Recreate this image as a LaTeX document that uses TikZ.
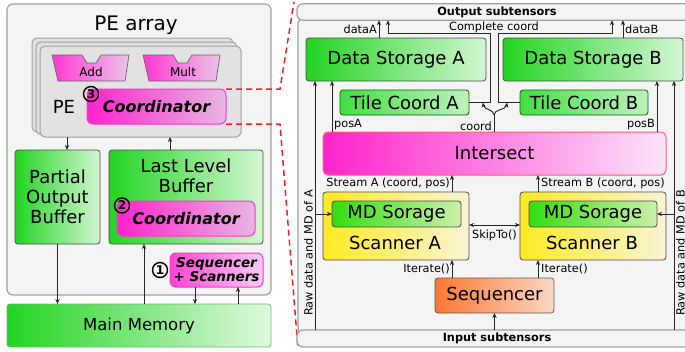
\documentclass[tikz,border=0pt]{standalone}
\usepackage{fontspec}
\setmainfont{DejaVu Sans}[BoldFont={DejaVu Sans Bold}, ItalicFont={DejaVu Sans Oblique}, BoldItalicFont={DejaVu Sans Bold Oblique}]
\usetikzlibrary{arrows.meta}

\definecolor{panelfill}{HTML}{F4F4F4}
\definecolor{panelline}{HTML}{A0A0A0}
\definecolor{pefill}{HTML}{E2E2E2}
\definecolor{gL}{HTML}{22D422}
\definecolor{gR}{HTML}{D4F6D4}
\definecolor{tcL}{HTML}{44DD44}
\definecolor{tcR}{HTML}{BEF2BE}
\definecolor{mgL}{HTML}{FF22CC}
\definecolor{mgR}{HTML}{E6B6E2}
\definecolor{mgLine}{HTML}{FF33CC}
\definecolor{ssR}{HTML}{F8CCF4}
\definecolor{isR}{HTML}{FCE4F8}
\definecolor{isLine}{HTML}{FF5A78}
\definecolor{yL}{HTML}{FFEA22}
\definecolor{yR}{HTML}{F8F4D6}
\definecolor{mdL}{HTML}{33DD11}
\definecolor{mdR}{HTML}{CCF0AA}
\definecolor{oL}{HTML}{FF7733}
\definecolor{oR}{HTML}{F8D8C4}
\definecolor{redline}{HTML}{EE2222}

\newcommand\fsTitle{\fontsize{20}{22}\selectfont}
\newcommand\fsBig{\fontsize{18}{20}\selectfont}
\newcommand\fsMM{\fontsize{16.5}{19}\selectfont}
\newcommand\fsCoord{\fontsize{16}{18}\selectfont\bfseries\itshape}
\newcommand\fsSeq{\fontsize{13.5}{14}\selectfont\bfseries\itshape}
\newcommand\fsLbl{\fontsize{11.3}{13}\selectfont}
\newcommand\fsSmall{\fontsize{12}{14}\selectfont}

\tikzset{
  base/.style={inner sep=0pt, outer sep=0pt, rounded corners=3pt, line width=0.8pt},
  panel/.style={base, draw=panelline, fill=panelfill, line width=1.2pt, rounded corners=6pt},
  bar/.style={base, draw=panelline, fill=panelfill, line width=1.2pt, rounded corners=6pt, font=\fsLbl\bfseries},
  pecard/.style={base, draw=panelline, fill=pefill, line width=1pt, rounded corners=5pt},
  gbox/.style={base, draw=black!70, left color=gL, right color=gR, font=\fsBig, align=center},
  mmbox/.style={base, draw=green!55!black!60, left color=gL, right color=gR!70!white, font=\fsMM},
  tcbox/.style={base, draw=green!40!black, left color=tcL, right color=tcR, font=\fsBig},
  coordbox/.style={base, draw=mgLine, line width=1pt, left color=mgL, right color=mgR, rounded corners=6pt, font=\fsCoord},
  ssbox/.style={base, draw=mgLine, line width=1pt, left color=mgL!85!white, right color=ssR, rounded corners=6pt, font=\fsSeq, align=center},
  isbox/.style={base, draw=isLine, line width=1pt, left color=mgL, right color=isR, rounded corners=5pt, font=\fsBig},
  scanbox/.style={base, draw=black!70, left color=yL, right color=yR},
  mdbox/.style={base, draw=black!70, left color=mdL, right color=mdR, font=\fsBig},
  seqbox/.style={base, draw=black!65, left color=oL, right color=oR, font=\fsBig},
  alu/.style={draw=black!60, line width=0.7pt, left color=mgL!90!white, right color=mgR!80!white},
  num/.style={circle, draw=black, line width=1.4pt, inner sep=0pt, minimum size=15pt, font=\fontsize{12}{12}\selectfont\bfseries},
  lbl/.style={inner sep=0pt, font=\fsLbl},
  arr/.style={-{Stealth[length=5pt,width=4.2pt]}, line width=0.9pt, draw=black!85},
  line/.style={line width=0.9pt, draw=black!85},
  reddash/.style={draw=redline, line width=1.5pt, dash pattern=on 6pt off 4pt},
}

\begin{document}
\begin{tikzpicture}[x=1pt,y=-1pt]
\clip (0,0) rectangle (685,351);

% ---------------- accelerator overview ----------------
\node[panel, minimum width=264, minimum height=291] (pearray) at (139,149.5) {};
\node[font=\fsTitle, inner sep=0pt] (pearraytitle) at (136,25) {PE array};

\node[pecard, minimum width=201, minimum height=94] (peback) at (132.5,85) {};
\node[pecard, minimum width=201, minimum height=92.5] (pemid) at (136.5,88.25) {};
\node[pecard, minimum width=201, minimum height=91] (pefront) at (140.5,91.5) {};

% ALU units
\path[alu] (52,55) -- (82,55) -- (87,63) -- (96,63) -- (101,55) -- (129,55) -- (125,81) -- (58,81) -- cycle;
\node[font=\fsSmall, inner sep=0pt] (addlbl) at (91,72) {Add};
\path[alu] (143,55) -- (173,55) -- (178,63) -- (187,63) -- (192,55) -- (220,55) -- (216,81) -- (149,81) -- cycle;
\node[font=\fsSmall, inner sep=0pt] (multlbl) at (183,72) {Mult};

\node[font=\fsBig, inner sep=0pt] (pelbl) at (64,107) {PE};
\node[coordbox, minimum width=139, minimum height=35] (coordPE) at (156.5,106.5) {Coordinator};
\node[num] (num3) at (91,94) {3};

\node[gbox, minimum width=85, minimum height=94] (pob) at (57.5,197) {Partial\\Output\\Buffer};
\node[gbox, minimum width=154, minimum height=94] (llb) at (186,197) {};
\node[font=\fsBig, align=center, inner sep=0pt] (llbtxt) at (186,175.5) {Last Level\\Buffer};
\node[coordbox, minimum width=138, minimum height=35] (coordLLB) at (186,218.5) {Coordinator};
\node[num] (num2) at (122,205.5) {2};

\node[ssbox, minimum width=93, minimum height=34] (seqscan) at (216.5,270) {Sequencer\\+ Scanners};
\node[num] (num1) at (160,270) {1};

\node[mmbox, minimum width=264, minimum height=43] (mm) at (139,325.5) {Main Memory};

% data movement
\draw[arr] (pefront.south -| 67,0) -- (pob.north -| 67,0);
\draw[arr] (llb.north -| 170,0) -- (pefront.south -| 170,0);
\draw[arr] (pob.south) -- (pob.south |- mm.north);
\draw[arr] (mm.north -| 144,0) -- (llb.south -| 144,0);
\draw[arr] (seqscan.south -| 195,0) -- (mm.north -| 195,0);
\draw[arr] (mm.north -| 238,0) -- (seqscan.south -| 238,0);

% zoom lines to the coordinator detail
\draw[reddash] (coordPE.north east) -- (280,89) -- (294,2);
\draw[reddash] (coordPE.south east) -- (280,124) -- (298,349);

% ---------------- coordinator detail ----------------
\node[panel, minimum width=402, minimum height=316] (rpanel) at (499,176) {};
\node[bar, minimum width=400, minimum height=16.5] (outbar) at (497,12) {Output subtensors};
\node[bar, minimum width=400, minimum height=17] (inbar) at (497,338.5) {Input subtensors};

\node[gbox, minimum width=180, minimum height=43] (dsa) at (396,59.5) {Data Storage A};
\node[gbox, minimum width=180, minimum height=43] (dsb) at (593,59.5) {Data Storage B};
\node[tcbox, minimum width=129, minimum height=25] (tca) at (404.5,102.5) {Tile Coord A};
\node[tcbox, minimum width=128, minimum height=25] (tcb) at (584,102.5) {Tile Coord B};
\node[isbox, minimum width=343, minimum height=43] (isect) at (494.5,153.5) {Intersect};

\node[scanbox, minimum width=146, minimum height=68] (scana) at (396,226) {};
\node[mdbox, minimum width=129, minimum height=26] (mda) at (396.5,214) {MD Sorage};
\node[font=\fsBig, inner sep=0pt] (scanatxt) at (395,243) {Scanner A};
\node[scanbox, minimum width=146, minimum height=68] (scanb) at (593,226) {};
\node[mdbox, minimum width=128, minimum height=26] (mdb) at (593,214) {MD Sorage};
\node[font=\fsBig, inner sep=0pt] (scanbtxt) at (592,243) {Scanner B};

\node[seqbox, minimum width=119, minimum height=35] (seq) at (494.5,295.5) {Sequencer};

% raw data and metadata feeds
\draw[arr] (inbar.north -| 315,0) -- (dsa.south -| 315,0);
\draw[arr] (mda.west -| 315,0) -- (mda.west);
\node[lbl, rotate=90, anchor=base] (rawa) at (312.5,253) {Raw data and MD of A};
\draw[arr] (inbar.north -| 674,0) -- (dsb.south -| 674,0);
\draw[arr] (mdb.east -| 674,0) -- (mdb.east);
\node[lbl, rotate=90, anchor=base] (rawb) at (684.5,253) {Raw data and MD of B};

% positions
\draw[arr] (isect.north -| 332,0) -- (dsa.south -| 332,0);
\node[lbl, anchor=west] (posa) at (334,125) {posA};
\draw[arr] (isect.north -| 657,0) -- (dsb.south -| 657,0);
\node[lbl, anchor=east] (posb) at (655,125) {posB};

% coordinates
\draw[line] (isect.north -| 494,0) -- (494,115);
\draw[arr] (494,115) .. controls (494,109) and (484,110) .. (483,102.5);
\draw[arr] (494,115) .. controls (494,109) and (506,110) .. (507,102.5);
\node[lbl, anchor=east] (coordlbl) at (492,126) {coord};
\draw[arr] (tca.east) -| (490,33) -| (outbar.south -| 388,0);
\draw[arr] (tcb.west) -| (498,33) -| (outbar.south -| 612,0);
\node[lbl] (complete) at (494,27) {Complete coord};

% data out
\draw[arr] (dsa.north -| 379,0) -- (outbar.south -| 379,0);
\node[lbl, anchor=east] (dataa) at (377,29) {dataA};
\draw[arr] (dsb.north -| 623,0) -- (outbar.south -| 623,0);
\node[lbl, anchor=west] (datab) at (625,29) {dataB};

% streams
\draw[arr] (scana.north -| 452,0) -- (isect.south -| 452,0);
\node[lbl, anchor=east] (streama) at (450,183) {Stream A (coord, pos)};
\draw[arr] (scanb.north -| 538,0) -- (isect.south -| 538,0);
\node[lbl, anchor=west] (streamb) at (541,183) {Stream B (coord, pos)};

\draw[{Stealth[length=5pt,width=4.2pt]}-{Stealth[length=5pt,width=4.2pt]}, line width=0.9pt, draw=black!85] (scana.east |- 0,225) -- (scanb.west |- 0,225);
\node[lbl] (skipto) at (494.5,235) {SkipTo()};

% sequencing
\draw[arr] (seq.north -| 452,0) -- (scana.south -| 452,0);
\node[lbl, anchor=east] (itera) at (450,269) {Iterate()};
\draw[arr] (seq.north -| 538,0) -- (scanb.south -| 538,0);
\node[lbl, anchor=west] (iterb) at (541,269) {Iterate()};
\draw[arr] (inbar.north -| seq.south) -- (seq.south);

\end{tikzpicture}
\end{document}
